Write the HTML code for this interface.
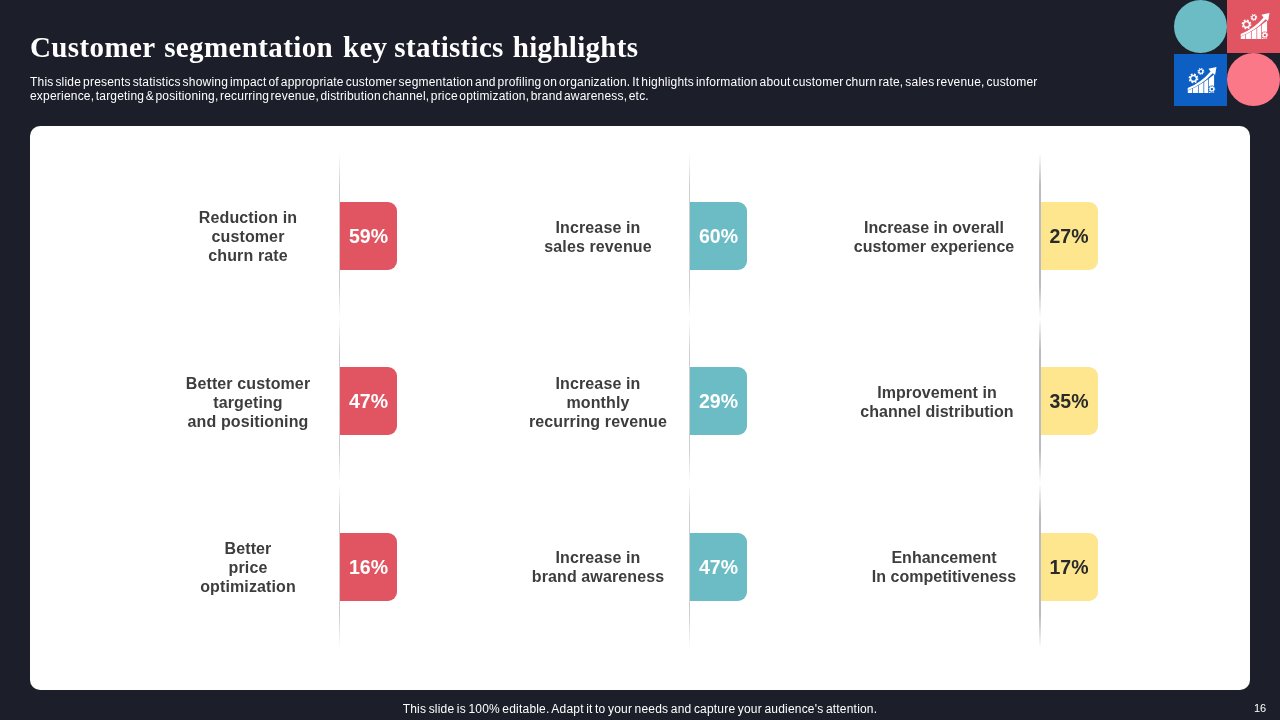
<!DOCTYPE html>
<html lang="en">
<head>
<meta charset="utf-8">
<title>Customer segmentation key statistics highlights</title>
<style>
html,body{margin:0;padding:0;}
body{width:1280px;height:720px;overflow:hidden;background:#1c1f2a;position:relative;font-family:"Liberation Sans",sans-serif;}
.title{position:absolute;left:30px;top:29px;word-spacing:1.6px;margin:0;font-family:"Liberation Serif",serif;font-weight:bold;font-size:29px;line-height:36px;color:#fff;white-space:nowrap;letter-spacing:0.3px;}
.sub{position:absolute;left:30px;top:74.5px;width:1200px;margin:0;font-size:12px;line-height:14.5px;color:#fff;letter-spacing:0.2px;word-spacing:-1.58px;white-space:nowrap;}
.panel{position:absolute;left:30px;top:126px;width:1220px;height:564px;background:#fff;border-radius:10px;}
.vline{position:absolute;width:1px;height:165px;background:linear-gradient(to bottom,rgba(206,206,206,0) 0%,rgba(206,206,206,1) 20%,rgba(206,206,206,1) 80%,rgba(206,206,206,0) 100%);}
.vline.thick{width:2px;z-index:2;background:linear-gradient(to bottom,rgba(186,186,192,0) 0%,rgba(186,186,192,1) 20%,rgba(186,186,192,1) 80%,rgba(186,186,192,0) 100%);}
.box{position:absolute;width:57px;height:68px;border-radius:0 9px 9px 0;font-weight:bold;font-size:19.5px;line-height:69px;text-align:center;color:#fff;}
.red{background:#e15563;}
.teal{background:#6bbcc4;}
.yel{background:#fde68e;color:#2a2a2a;width:58px;}
.lbl{position:absolute;width:220px;text-align:center;font-weight:bold;font-size:16px;line-height:19px;color:#3d3d3d;letter-spacing:0.12px;}
.foot{position:absolute;left:0;width:1280px;top:702px;text-align:center;font-size:12px;line-height:14px;color:#fff;letter-spacing:0.2px;word-spacing:-1.05px;}
.pg{position:absolute;left:1254px;top:702px;font-size:11px;line-height:12px;color:#fff;}
.deco{position:absolute;}
</style>
</head>
<body>
<h1 class="title"><span style="letter-spacing:.38px">Customer segmentation</span> <span style="margin-left:.8px;margin-right:-2.2px">key</span> statistics highlights</h1>
<p class="sub">This slide presents statistics showing impact of appropriate customer segmentation and profiling on organization. It highlights information about customer churn rate, sales revenue, customer<br><span style="word-spacing:-2.05px">experience, targeting &amp; positioning, recurring revenue, distribution channel, price optimization, brand awareness, etc.</span></p>

<div class="deco" style="left:1174px;top:0;width:53px;height:53px;border-radius:50%;background:#6bbcc4;"></div>
<div class="deco" style="left:1227px;top:0;width:53px;height:53px;background:#e15563;"><svg width="53" height="53" viewBox="0 0 53 53" style="position:absolute;left:0;top:-1px;display:block"><path fill="#fff" d="M13.8 40.1V36.8Q28.5 31.8 40.1 21.6V40.1Z"/><rect x="18.05" y="22" width="0.7" height="18.2" fill="#e15563"/><rect x="23.95" y="22" width="0.7" height="18.2" fill="#e15563"/><rect x="29.50" y="22" width="0.7" height="18.2" fill="#e15563"/><rect x="34.25" y="22" width="0.7" height="18.2" fill="#e15563"/><path fill="#fff" stroke="#e15563" stroke-width="0.7" paint-order="stroke" d="M13.7 35Q27 29.6 36.6 18.4L34.4 15.8L42.5 13.9L41.1 22L38.7 20.3Q28.4 31.8 13.7 37.2Z"/><circle cx="37.9" cy="36.1" r="3.6" fill="#e15563"/><circle cx="37.9" cy="36.1" r="2.80" fill="none" stroke="#fff" stroke-width="1.00" stroke-dasharray="1.210 0.990"/><circle cx="37.9" cy="36.1" r="2.50" fill="#fff"/><circle cx="37.9" cy="36.1" r="1.20" fill="#e15563"/><circle cx="19.5" cy="25.4" r="4.20" fill="none" stroke="#fff" stroke-width="1.40" stroke-dasharray="1.814 1.484"/><circle cx="19.5" cy="25.4" r="3.70" fill="#fff"/><circle cx="19.5" cy="25.4" r="2.20" fill="#e15563"/><circle cx="26.9" cy="18.4" r="2.85" fill="none" stroke="#fff" stroke-width="1.10" stroke-dasharray="1.231 1.007"/><circle cx="26.9" cy="18.4" r="2.50" fill="#fff"/><circle cx="26.9" cy="18.4" r="1.30" fill="#e15563"/></svg></div>
<div class="deco" style="left:1174px;top:54px;width:53px;height:52px;background:#0d5fc4;"><svg width="53" height="53" viewBox="0 0 53 53" style="position:absolute;left:0;top:-1px;display:block"><path fill="#fff" d="M13.8 40.1V36.8Q28.5 31.8 40.1 21.6V40.1Z"/><rect x="18.05" y="22" width="0.7" height="18.2" fill="#0d5fc4"/><rect x="23.95" y="22" width="0.7" height="18.2" fill="#0d5fc4"/><rect x="29.50" y="22" width="0.7" height="18.2" fill="#0d5fc4"/><rect x="34.25" y="22" width="0.7" height="18.2" fill="#0d5fc4"/><path fill="#fff" stroke="#0d5fc4" stroke-width="0.7" paint-order="stroke" d="M13.7 35Q27 29.6 36.6 18.4L34.4 15.8L42.5 13.9L41.1 22L38.7 20.3Q28.4 31.8 13.7 37.2Z"/><circle cx="37.9" cy="36.1" r="3.6" fill="#0d5fc4"/><circle cx="37.9" cy="36.1" r="2.80" fill="none" stroke="#fff" stroke-width="1.00" stroke-dasharray="1.210 0.990"/><circle cx="37.9" cy="36.1" r="2.50" fill="#fff"/><circle cx="37.9" cy="36.1" r="1.20" fill="#0d5fc4"/><circle cx="19.5" cy="25.4" r="4.20" fill="none" stroke="#fff" stroke-width="1.40" stroke-dasharray="1.814 1.484"/><circle cx="19.5" cy="25.4" r="3.70" fill="#fff"/><circle cx="19.5" cy="25.4" r="2.20" fill="#0d5fc4"/><circle cx="26.9" cy="18.4" r="2.85" fill="none" stroke="#fff" stroke-width="1.10" stroke-dasharray="1.231 1.007"/><circle cx="26.9" cy="18.4" r="2.50" fill="#fff"/><circle cx="26.9" cy="18.4" r="1.30" fill="#0d5fc4"/></svg></div>
<div class="deco" style="left:1227px;top:53px;width:53px;height:53px;border-radius:50%;background:#fb7888;"></div>

<div class="panel"></div>

<!-- column 1 -->
<div class="vline" style="left:339px;top:153px;"></div>
<div class="vline" style="left:339px;top:318px;"></div>
<div class="vline" style="left:339px;top:483px;"></div>
<div class="box red" style="left:340px;top:202px;">59%</div>
<div class="box red" style="left:340px;top:367px;">47%</div>
<div class="box red" style="left:340px;top:533px;">16%</div>
<div class="lbl" style="left:138px;top:208px;">Reduction in<br>customer<br>churn rate</div>
<div class="lbl" style="left:138px;top:374px;">Better customer<br>targeting<br>and positioning</div>
<div class="lbl" style="left:138px;top:539px;">Better<br>price<br>optimization</div>

<!-- column 2 -->
<div class="vline" style="left:689px;top:153px;"></div>
<div class="vline" style="left:689px;top:318px;"></div>
<div class="vline" style="left:689px;top:483px;"></div>
<div class="box teal" style="left:690px;top:202px;">60%</div>
<div class="box teal" style="left:690px;top:367px;">29%</div>
<div class="box teal" style="left:690px;top:533px;">47%</div>
<div class="lbl" style="left:488px;top:218px;">Increase in<br>sales revenue</div>
<div class="lbl" style="left:488px;top:374px;">Increase in<br>monthly<br>recurring revenue</div>
<div class="lbl" style="left:488px;top:548px;">Increase in<br>brand awareness</div>

<!-- column 3 -->
<div class="vline thick" style="left:1039px;top:153px;"></div>
<div class="vline thick" style="left:1039px;top:318px;"></div>
<div class="vline thick" style="left:1039px;top:483px;"></div>
<div class="box yel" style="left:1040px;top:202px;">27%</div>
<div class="box yel" style="left:1040px;top:367px;">35%</div>
<div class="box yel" style="left:1040px;top:533px;">17%</div>
<div class="lbl" style="left:824px;top:218px;letter-spacing:0.02px;">Increase in overall<br>customer experience</div>
<div class="lbl" style="left:827px;top:383px;letter-spacing:0.02px;">Improvement in<br>channel distribution</div>
<div class="lbl" style="left:834px;top:548px;letter-spacing:0.02px;">Enhancement<br>In competitiveness</div>

<div class="foot">This slide is 100% editable. Adapt it to your needs and capture your audience's attention.</div>
<div class="pg">16</div>
</body>
</html>
